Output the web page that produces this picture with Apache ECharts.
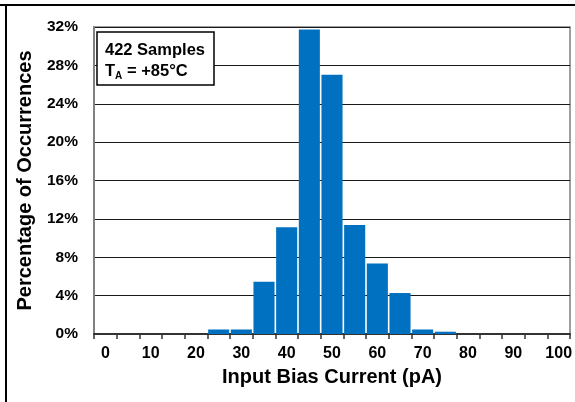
<!DOCTYPE html>
<html>
<head>
<meta charset="utf-8">
<script src="https://cdn.jsdelivr.net/npm/echarts@6/dist/echarts.min.js"></script>
<style>html,body{margin:0;padding:0;background:#fff;}#c{width:575px;height:402px;}</style>
</head>
<body>
<div id="c"></div>
<script>
var categories = ['0','5','10','15','20','25','30','35','40','45','50','55','60','65','70','75','80','85','90','95','100'];
var percentValues = [0,0,0,0,0,0.47,0.47,5.45,11.14,31.75,27.01,11.37,7.35,4.27,0.47,0.24,0,0,0,0,0];
var legendLine1 = '422 Samples';
var xAxisTitle = 'Input Bias Current (pA)';
var yAxisTitle = 'Percentage of Occurrences';

var chart = echarts.init(document.getElementById('c'), null, {renderer:'canvas'});
var fontFam = '"Liberation Sans", Arial, sans-serif';
chart.setOption({
  animation:false,
  backgroundColor:'#fff',
  grid:{left:94,right:4,top:27,bottom:68,show:true,borderColor:'#808080',borderWidth:1.5,backgroundColor:'transparent'},
  xAxis:{
    type:'category',
    data:categories,
    boundaryGap:true,
    name:xAxisTitle,
    nameLocation:'middle',
    nameGap:33,
    nameTextStyle:{fontFamily:fontFam,fontWeight:'bold',fontSize:20,color:'#000'},
    axisLine:{show:true,lineStyle:{color:'#333',width:2}},
    axisTick:{show:true,interval:0,length:5,lineStyle:{color:'#333',width:1.5}},
    axisLabel:{interval:1,margin:12,fontFamily:fontFam,fontWeight:'bold',fontSize:16,color:'#000'},
    splitLine:{show:false}
  },
  yAxis:{
    type:'value',
    min:0,max:32,interval:4,
    name:yAxisTitle,
    nameLocation:'middle',
    nameRotate:90,
    nameGap:59,
    nameTextStyle:{fontFamily:fontFam,fontWeight:'bold',fontSize:20,color:'#000'},
    axisLine:{show:true,lineStyle:{color:'#808080',width:2}},
    axisTick:{show:false},
    axisLabel:{margin:16,formatter:'{value}%',fontFamily:fontFam,fontWeight:'bold',fontSize:15.5,color:'#000'},
    splitLine:{show:true,lineStyle:{color:'#1a1a1a',width:1}}
  },
  series:[{
    type:'bar',
    data:percentValues,
    barCategoryGap:'7%',
    itemStyle:{color:'#0070C0',borderColor:'#ffffff',borderWidth:0},
    z:2
  }],
  graphic:[
    {type:'line',shape:{x1:0,y1:5,x2:575,y2:5},style:{stroke:'#000',lineWidth:2},z:100},
    {type:'line',shape:{x1:6,y1:5,x2:6,y2:402},style:{stroke:'#000',lineWidth:2},z:100},
    {type:'rect',shape:{x:97,y:32,width:117,height:53},style:{fill:'#fff',stroke:'#000',lineWidth:1.5},z:100},
    {type:'text',x:105,y:42,style:{text:legendLine1,fontFamily:fontFam,fontWeight:'bold',fontSize:16.5,fill:'#000',verticalAlign:'top'},z:101},
    {type:'text',x:105,y:63,style:{text:'T',fontFamily:fontFam,fontWeight:'bold',fontSize:16.5,fill:'#000',verticalAlign:'top'},z:101},
    {type:'text',x:115,y:71,style:{text:'A',fontFamily:fontFam,fontWeight:'bold',fontSize:10,fill:'#000',verticalAlign:'top'},z:101},
    {type:'text',x:127,y:63,style:{text:'= +85°C',fontFamily:fontFam,fontWeight:'bold',fontSize:16.5,fill:'#000',verticalAlign:'top'},z:101}
  ]
});
</script>
</body>
</html>
